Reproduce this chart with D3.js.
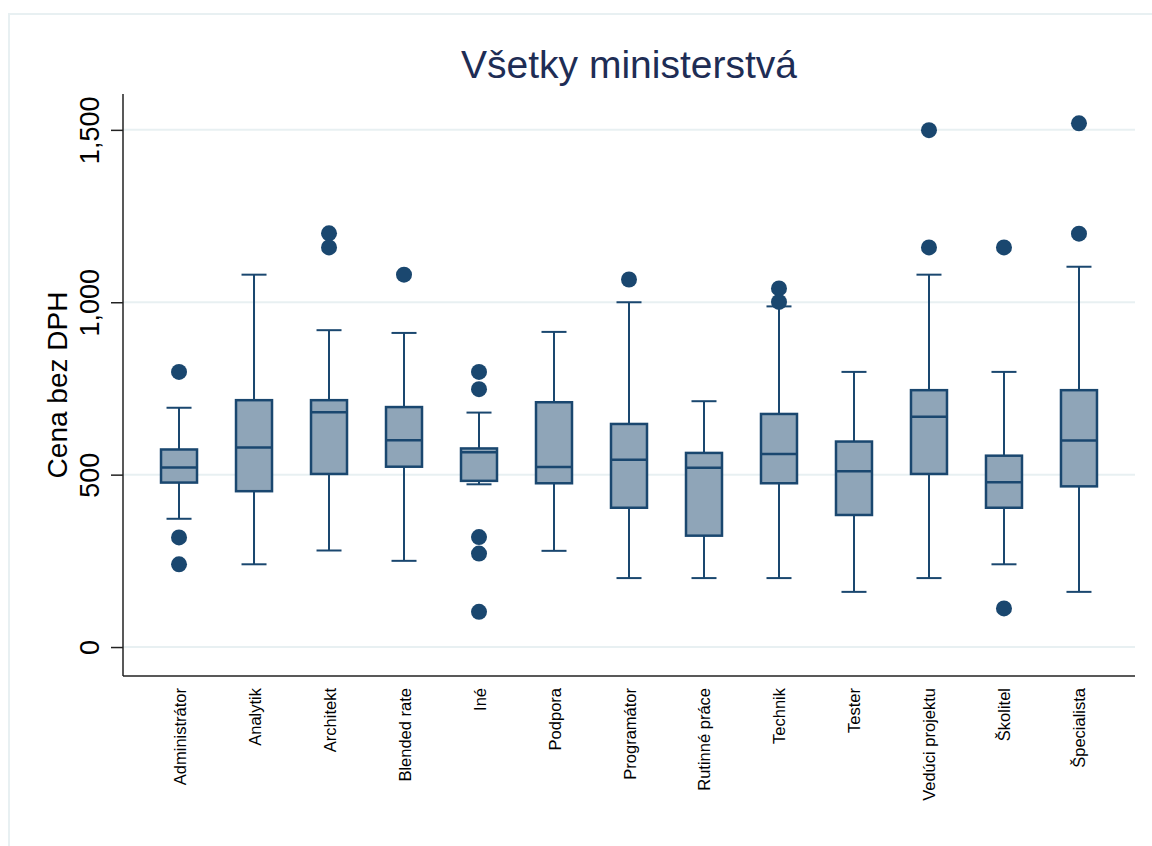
<!DOCTYPE html>
<html>
<head>
<meta charset="utf-8">
<script src="https://cdn.jsdelivr.net/npm/d3@7"></script>
<style>
  body { margin: 0; background: #fff; }
  text { font-family: "Liberation Sans", Arial, Helvetica, sans-serif; }
</style>
</head>
<body>
<svg id="chart" width="1152" height="846"></svg>
<script>
// categories and box statistics
var categories = ["Administrátor", "Analytik", "Architekt", "Blended rate", "Iné", "Podpora",
  "Programátor", "Rutinné práce", "Technik", "Tester", "Vedúci projektu", "Školitel", "Špecialista"];
var whiskerLow  = [372, 240, 280, 250, 472, 279, 200, 200, 200, 160, 200, 240, 160];
var q1          = [477, 452, 502, 523, 482, 475, 404, 323, 475, 383, 502, 404, 466];
var median      = [521, 579, 681, 600, 565, 522, 543, 520, 560, 510, 668, 478, 599];
var q3          = [573, 716, 716, 696, 576, 710, 647, 563, 676, 596, 745, 555, 745];
var whiskerHigh = [694, 1080, 919, 911, 680, 914, 1000, 713, 988, 798, 1080, 798, 1103];
var outliers = [
  [798, 318, 240],
  [],
  [1200, 1159],
  [1080],
  [798, 748, 319, 271, 102],
  [],
  [1066],
  [],
  [1040, 1001],
  [],
  [1499, 1159],
  [1159, 112],
  [1519, 1199]
];
var yTicks = [0, 500, 1000, 1500];

var svg = d3.select("#chart");
var plotLeft = 123, plotRight = 1135, plotTop = 94, plotBottom = 676;
var navy = "#1a476f", boxFill = "#8fa5b8", grid = "#e8f0f2";
var boxW = 36, capW = 25;

var rows = categories.map(function(c, i) {
  return {cat: c, lo: whiskerLow[i], q1: q1[i], med: median[i], q3: q3[i], hi: whiskerHigh[i], out: outliers[i]};
});

var x = d3.scalePoint().domain(categories).range([plotLeft, plotRight]).padding(0.747);
var y = d3.scaleLinear().domain([-84, 1604]).range([plotBottom, plotTop]);

// outer frame
svg.append("rect")
  .attr("x", 9).attr("y", 14).attr("width", 1170).attr("height", 860)
  .attr("fill", "none").attr("stroke", grid).attr("stroke-width", 2);

// title
svg.append("text")
  .attr("x", 629).attr("y", 78)
  .attr("text-anchor", "middle")
  .attr("font-size", 39)
  .attr("fill", "#1e2d55")
  .text("Všetky ministerstvá");

// gridlines
svg.append("g").selectAll("line")
  .data(yTicks)
  .enter().append("line")
  .attr("x1", plotLeft).attr("x2", plotRight)
  .attr("y1", function(d) { return y(d); })
  .attr("y2", function(d) { return y(d); })
  .attr("stroke", grid).attr("stroke-width", 2);

// y axis
var yAxis = svg.append("g")
  .attr("transform", "translate(" + plotLeft + ",0)")
  .call(d3.axisLeft(y).tickValues(yTicks).tickFormat(d3.format(",")).tickSize(12).tickSizeOuter(0));
yAxis.select(".domain").attr("stroke", "#222").attr("stroke-width", 1.5)
  .attr("d", "M0," + plotTop + "V" + plotBottom);
yAxis.selectAll(".tick line").attr("stroke", "#222").attr("stroke-width", 1.5);
yAxis.selectAll(".tick text")
  .attr("x", null).attr("dy", null)
  .attr("transform", "translate(-24,0) rotate(-90)")
  .attr("text-anchor", "middle")
  .attr("font-size", 27)
  .attr("fill", "#000");

svg.append("text")
  .attr("transform", "translate(67," + ((plotTop + plotBottom) / 2) + ") rotate(-90)")
  .attr("text-anchor", "middle")
  .attr("font-size", 28)
  .attr("fill", "#000")
  .text("Cena bez DPH");

// x axis
var xAxis = svg.append("g")
  .attr("transform", "translate(0," + plotBottom + ")")
  .call(d3.axisBottom(x).tickSize(0).tickSizeOuter(0));
xAxis.select(".domain").attr("stroke", "#222").attr("stroke-width", 1.5)
  .attr("d", "M" + plotLeft + ",0H" + plotRight);
xAxis.selectAll(".tick text")
  .attr("x", null).attr("y", null).attr("dy", null)
  .attr("transform", "translate(6,12) rotate(-90)")
  .attr("text-anchor", "end")
  .attr("font-size", 16.5)
  .attr("fill", "#000");

// boxes
var box = svg.append("g").selectAll("g")
  .data(rows)
  .enter().append("g")
  .attr("transform", function(d) { return "translate(" + x(d.cat) + ",0)"; });

box.append("line")
  .attr("y1", function(d) { return y(d.hi); })
  .attr("y2", function(d) { return y(d.q3); })
  .attr("stroke", navy).attr("stroke-width", 2);
box.append("line")
  .attr("y1", function(d) { return y(d.q1); })
  .attr("y2", function(d) { return y(d.lo); })
  .attr("stroke", navy).attr("stroke-width", 2);
box.append("line")
  .attr("x1", -capW / 2).attr("x2", capW / 2)
  .attr("y1", function(d) { return y(d.hi); })
  .attr("y2", function(d) { return y(d.hi); })
  .attr("stroke", navy).attr("stroke-width", 2);
box.append("line")
  .attr("x1", -capW / 2).attr("x2", capW / 2)
  .attr("y1", function(d) { return y(d.lo); })
  .attr("y2", function(d) { return y(d.lo); })
  .attr("stroke", navy).attr("stroke-width", 2);
box.append("rect")
  .attr("x", -boxW / 2).attr("width", boxW)
  .attr("y", function(d) { return y(d.q3); })
  .attr("height", function(d) { return y(d.q1) - y(d.q3); })
  .attr("fill", boxFill).attr("stroke", navy).attr("stroke-width", 2.5);
box.append("line")
  .attr("x1", -boxW / 2).attr("x2", boxW / 2)
  .attr("y1", function(d) { return y(d.med); })
  .attr("y2", function(d) { return y(d.med); })
  .attr("stroke", navy).attr("stroke-width", 2.5);

box.selectAll("circle")
  .data(function(d) { return d.out; })
  .enter().append("circle")
  .attr("cx", 0)
  .attr("cy", function(d) { return y(d); })
  .attr("r", 8)
  .attr("fill", navy);
</script>
</body>
</html>
